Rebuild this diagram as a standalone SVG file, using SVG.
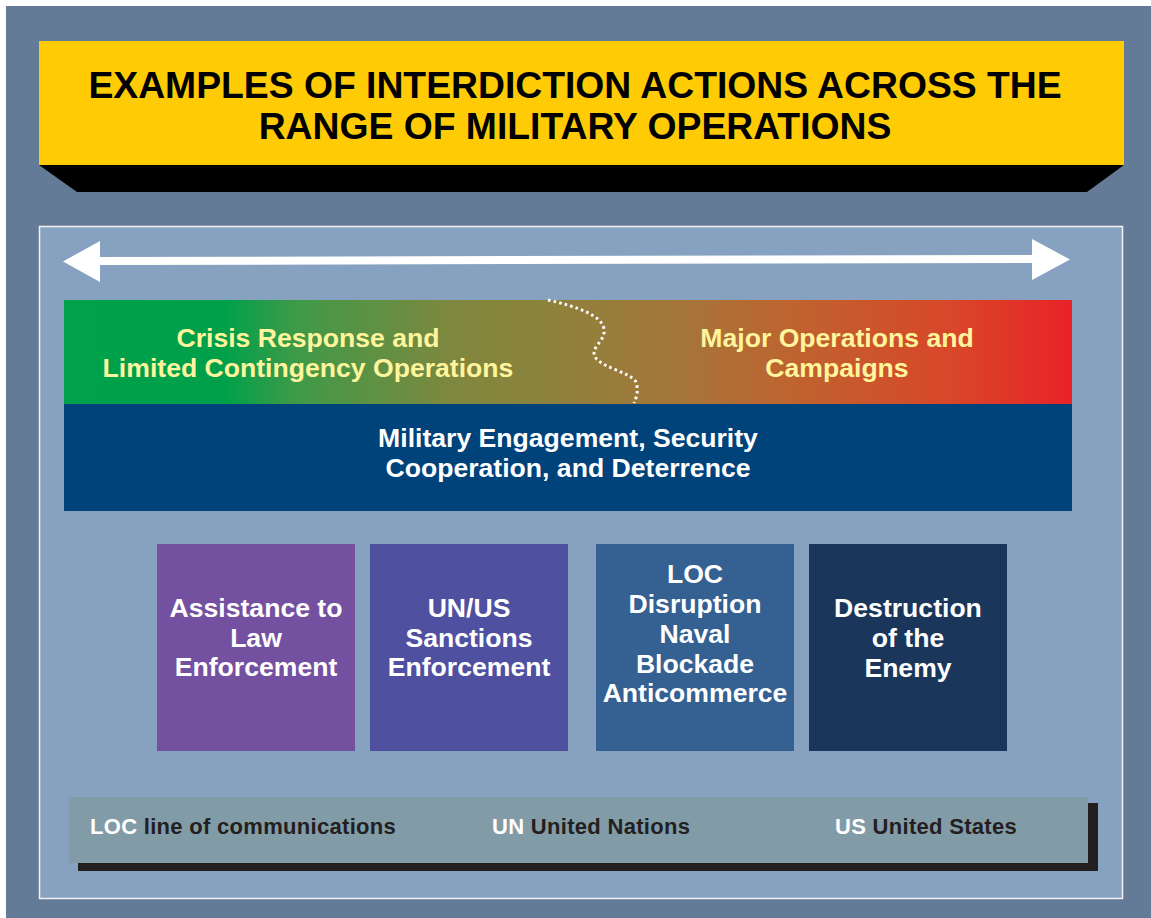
<svg xmlns="http://www.w3.org/2000/svg" width="1151" height="918" viewBox="0 0 1151 918">
<defs>
<linearGradient id="band" x1="64" y1="0" x2="1072" y2="0" gradientUnits="userSpaceOnUse">
<stop offset="0" stop-color="#00a14b"/>
<stop offset="0.16" stop-color="#00a04a"/>
<stop offset="0.23" stop-color="#3f9a48"/>
<stop offset="0.39" stop-color="#80873e"/>
<stop offset="0.47" stop-color="#8b833c"/>
<stop offset="0.61" stop-color="#a57639"/>
<stop offset="0.73" stop-color="#c0622f"/>
<stop offset="0.88" stop-color="#d84729"/>
<stop offset="1" stop-color="#e92228"/>
</linearGradient>
<style>
text{font-family:"Liberation Sans",Arial,sans-serif;font-weight:bold}
.title{font-size:37.3px;fill:#000;text-anchor:middle}
.band{font-size:26.6px;fill:#fff59d;text-anchor:middle}
.wt{font-size:26.6px;fill:#fff;text-anchor:middle}
.leg{font-size:22px;letter-spacing:0.3px;fill:#231f20}
.abbr{fill:#fff}
</style>
</defs>
<rect x="0" y="0" width="1151" height="918" fill="#fff"/>
<rect x="6" y="6" width="1145" height="912" fill="#647b97"/>
<g id="title">
<polygon points="39,165 1124,165 1087,192 77,192" fill="#000"/>
<rect x="39" y="41" width="1085" height="124" fill="#ffcb05"/>
<text class="title" x="575" y="98">EXAMPLES OF INTERDICTION ACTIONS ACROSS THE</text>
<text class="title" x="575" y="139">RANGE OF MILITARY OPERATIONS</text>
</g>
<rect id="panel" x="39.5" y="226.5" width="1083" height="672" fill="#87a2c0" stroke="#f2f2f2" stroke-width="1.5"/>
<g id="connectors">
<polygon points="63,261.5 100,241 100,257 1032,255 1032,239 1070,259.5 1032,280 1032,263 100,265 100,282" fill="#fff"/>
</g>
<g id="band-top">
<rect x="64" y="300" width="1008" height="104" fill="url(#band)"/>
<path d="M548,300 C575,306 602,315 604,329 C606,341 590,347 595,357 C602,368 630,372 636,382 C639,392 636,398 634,403" fill="none" stroke="#fff" stroke-width="3" stroke-dasharray="2.6 3.1"/>
</g>
<g id="crisis">
<text class="band" x="308" y="347">Crisis Response and</text>
<text class="band" x="308" y="377">Limited Contingency Operations</text>
</g>
<g id="major">
<text class="band" x="837" y="347">Major Operations and</text>
<text class="band" x="837" y="377">Campaigns</text>
</g>
<g id="engagement">
<rect x="64" y="404" width="1008" height="107" fill="#00427a"/>
<text class="wt" x="568" y="447">Military Engagement, Security</text>
<text class="wt" x="568" y="477">Cooperation, and Deterrence</text>
</g>
<g id="box-law">
<rect x="157" y="544" width="198" height="207" fill="#7451a0"/>
<text class="wt" x="256" y="617">Assistance to</text>
<text class="wt" x="256" y="647">Law</text>
<text class="wt" x="256" y="676">Enforcement</text>
</g>
<g id="box-sanctions">
<rect x="370" y="544" width="198" height="207" fill="#5050a0"/>
<text class="wt" x="469" y="617">UN/US</text>
<text class="wt" x="469" y="647">Sanctions</text>
<text class="wt" x="469" y="676">Enforcement</text>
</g>
<g id="box-loc">
<rect x="596" y="544" width="198" height="207" fill="#356192"/>
<text class="wt" x="695" y="583">LOC</text>
<text class="wt" x="695" y="613">Disruption</text>
<text class="wt" x="695" y="643">Naval</text>
<text class="wt" x="695" y="673">Blockade</text>
<text class="wt" x="695" y="702">Anticommerce</text>
</g>
<g id="box-destruction">
<rect x="809" y="544" width="198" height="207" fill="#1a365b"/>
<text class="wt" x="908" y="617">Destruction</text>
<text class="wt" x="908" y="647">of the</text>
<text class="wt" x="908" y="677">Enemy</text>
</g>
<g id="legend">
<rect x="78" y="803" width="1020" height="68" fill="#231f20"/>
<rect x="69" y="797" width="1019" height="66" fill="#819ba7"/>
<text class="leg" x="90" y="834"><tspan class="abbr">LOC</tspan> line of communications</text>
<text class="leg" x="492" y="834"><tspan class="abbr">UN</tspan> United Nations</text>
<text class="leg" x="835" y="834"><tspan class="abbr">US</tspan> United States</text>
</g>
</svg>
